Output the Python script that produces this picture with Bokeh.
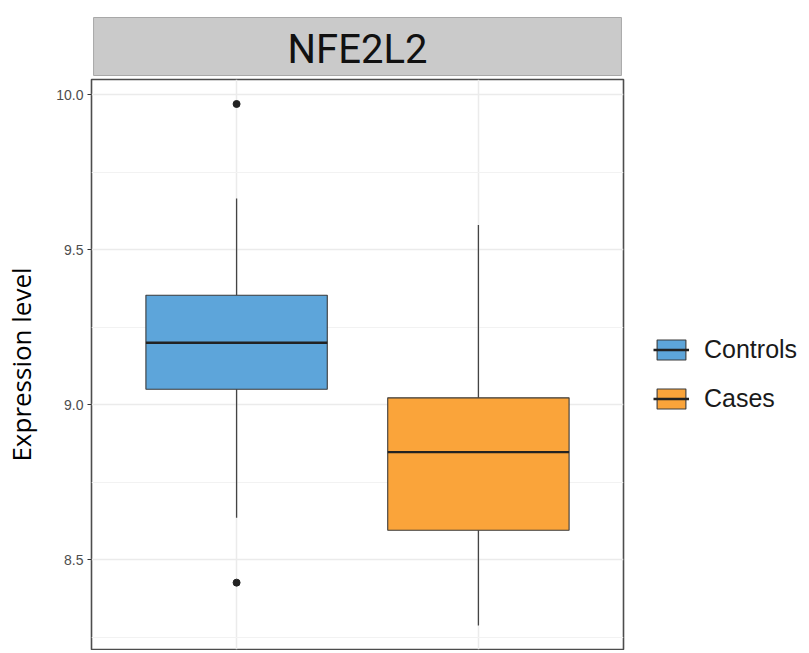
from bokeh.plotting import figure
from bokeh.models import (ColumnDataSource, FixedTicker, PrintfTickFormatter, Range1d,
                          Legend, LegendItem, Title)
from bokeh.embed import file_html
from bokeh.resources import INLINE

# ---------------- data ----------------
gene = "NFE2L2"
groups = ["Controls", "Cases"]
colors = ["#5DA5DA", "#FAA43A"]
lower_whisker = [8.635, 8.288]
q1 = [9.050, 8.595]
median = [9.200, 8.847]
q3 = [9.353, 9.022]
upper_whisker = [9.665, 9.580]
outlier_group = ["Controls", "Controls"]
outlier_value = [9.970, 8.426]
y_ticks = [8.5, 9.0, 9.5, 10.0]
y_minor_ticks = [8.25, 8.75, 9.25, 9.75]
y_label = "Expression level"

# ---------------- derived ----------------
box_w = 0.75
xpos = [i + 1 for i in range(len(groups))]
src = ColumnDataSource(dict(
    x=xpos, group=groups, color=colors,
    left=[x - box_w / 2 for x in xpos], right=[x + box_w / 2 for x in xpos],
    lw=lower_whisker, q1=q1, med=median, q3=q3, uw=upper_whisker,
))
out_src = ColumnDataSource(dict(
    x=[groups.index(g) + 1 for g in outlier_group], y=outlier_value,
))

# ---------------- main panel ----------------
p = figure(frame_width=532, frame_height=570,
           x_range=Range1d(0.4, 2.6), y_range=Range1d(8.2103, 10.049),
           output_backend="svg", toolbar_location=None, title=None,
           min_border_left=91, min_border_right=180, min_border_top=79, min_border_bottom=1)
p.background_fill_color = "white"
p.border_fill_color = "white"
p.outline_line_color = "#4d4d4d"
p.outline_line_width = 1.6

# facet strip as a boxed title
strip = Title(text=gene, align="center", vertical_align="middle",
              text_font="Roboto", text_font_size="40px",
              text_font_style="normal", text_color="#111111",
              background_fill_color="#cacaca", border_line_color="#a8a8a8",
              padding=dict(left=194, right=194, top=8, bottom=3), offset=0, standoff=6)
p.add_layout(strip, "above")

p.xaxis.ticker = FixedTicker(ticks=xpos)
p.xaxis.visible = False
p.xgrid.grid_line_color = "#ebebeb"
p.xgrid.grid_line_width = 1.5

p.yaxis.ticker = FixedTicker(ticks=y_ticks, minor_ticks=y_minor_ticks)
p.yaxis.formatter = PrintfTickFormatter(format="%.1f")
p.yaxis.axis_line_color = None
p.yaxis.major_tick_line_color = "#333333"
p.yaxis.major_tick_out = 4
p.yaxis.major_tick_in = 0
p.yaxis.minor_tick_line_color = None
p.yaxis.major_label_text_font = "Liberation Sans"
p.yaxis.major_label_text_font_size = "14px"
p.yaxis.major_label_text_color = "#4d4d4d"
p.yaxis.major_label_standoff = 4
p.yaxis.axis_label = y_label
p.yaxis.axis_label_text_font = "Open Sans"
p.yaxis.axis_label_text_font_size = "26px"
p.yaxis.axis_label_text_font_style = "normal"
p.yaxis.axis_label_text_color = "#000000"
p.yaxis.axis_label_standoff = 14
p.ygrid.grid_line_color = "#ebebeb"
p.ygrid.grid_line_width = 1.5
p.ygrid.minor_grid_line_color = "#f2f2f2"
p.ygrid.minor_grid_line_width = 1.2

# whiskers
p.segment(x0="x", y0="q3", x1="x", y1="uw", source=src, line_color="#444444", line_width=1.3)
p.segment(x0="x", y0="q1", x1="x", y1="lw", source=src, line_color="#444444", line_width=1.3)
# boxes
boxes = p.quad(left="left", right="right", bottom="q1", top="q3", source=src,
               fill_color="color", line_color="#3a3a3a", line_width=1.1)
# medians
meds = p.segment(x0="left", y0="med", x1="right", y1="med", source=src,
                 line_color="#222222", line_width=2.4)
# outliers
p.scatter(x="x", y="y", source=out_src, size=7, fill_color="#222222", line_color="#222222")

# legend in the right-hand panel
legend = Legend(items=[LegendItem(label=g, renderers=[boxes, meds], index=i)
                       for i, g in enumerate(groups)],
                location=(30, 236), orientation="vertical",
                glyph_width=36, glyph_height=25, label_standoff=15,
                label_text_font="Liberation Sans", label_text_font_size="25px",
                label_text_color="#1a1a1a", spacing=20, padding=0, margin=0,
                border_line_color=None, background_fill_alpha=0)
p.add_layout(legend, "right")

open("out.html", "w").write(file_html(p, INLINE))
